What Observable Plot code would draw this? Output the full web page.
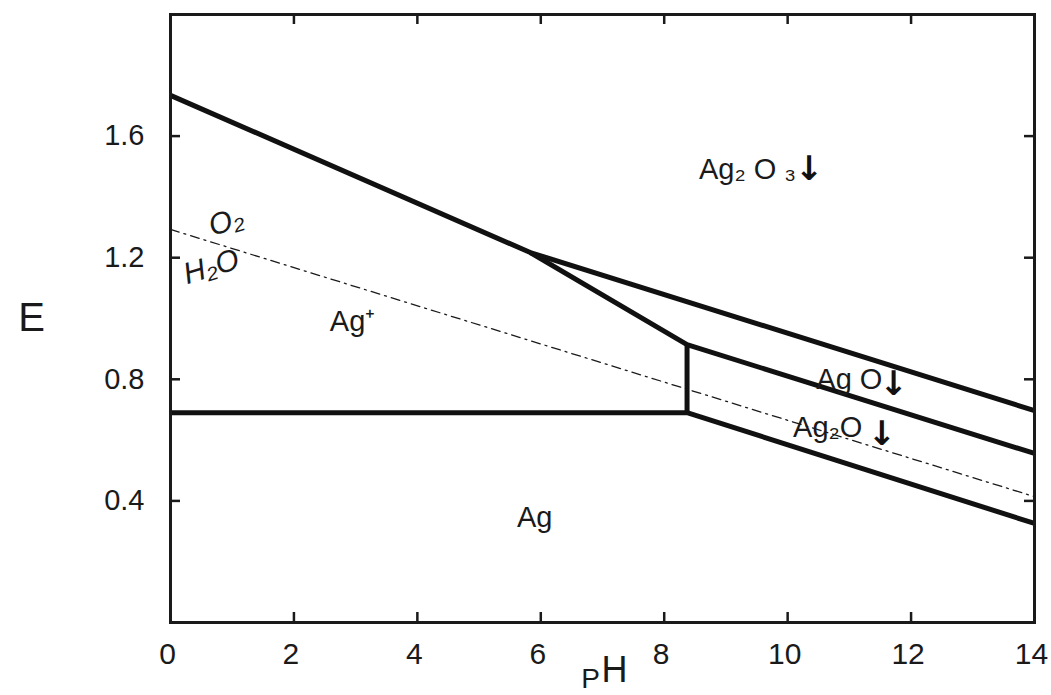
<!DOCTYPE html>
<html><head><meta charset="utf-8">
<script src="https://cdn.jsdelivr.net/npm/d3@7"></script>
<script src="https://cdn.jsdelivr.net/npm/@observablehq/plot@0.6"></script>
<style>body{margin:0;background:#fff}</style>
</head><body><div id="chart"></div>
<script>
// Tick values
const phTickLabels = [0, 2, 4, 6, 8, 10, 12, 14];
const phInnerTicks = [2, 4, 6, 8, 10, 12];
const eTickLabels = [0.4, 0.8, 1.2, 1.6];

// Boundary lines (pH, E)
const lineUpperPH = [0, 5.83, 14];
const lineUpperE  = [1.734, 1.217, 0.697];
const lineMiddlePH = [5.83, 8.37, 14];
const lineMiddleE  = [1.217, 0.914, 0.556];
const lineLowerPH = [0, 8.37, 14];
const lineLowerE  = [0.69, 0.69, 0.326];
const lineVertPH = [8.37, 8.37];
const lineVertE  = [0.914, 0.69];
const waterPH = [0, 14];
const waterE  = [1.293, 0.414];

// Region labels
const labelText = ["Ag\u2082 O \u2083", "Ag\u207A", "Ag", "Ag O", "Ag\u2082O"];
const labelPH   = [9.35, 2.95, 5.9, 11.0, 10.65];
const labelE    = [1.49, 0.99, 0.345, 0.80, 0.64];

// Precipitate arrows
const arrowPH = [10.35, 11.72, 11.53];
const arrowE  = [1.49, 0.785, 0.62];

// Water line labels
const waterText = ["O\u2082", "H\u2082O"];
const waterLabelPH = [0.9, 0.66];
const waterLabelE  = [1.318, 1.17];

const toRows = (id, xs, ys) => xs.map((x, i) => ({id, pH: x, E: ys[i]}));
const boundaries = [
  ...toRows("upper", lineUpperPH, lineUpperE),
  ...toRows("middle", lineMiddlePH, lineMiddleE),
  ...toRows("lower", lineLowerPH, lineLowerE),
  ...toRows("vert", lineVertPH, lineVertE)
];
const water = toRows("water", waterPH, waterE);
const labels = labelText.map((t, i) => ({t, pH: labelPH[i], E: labelE[i]}));
const arrows = arrowPH.map((x, i) => ({pH: x, E: arrowE[i]}));
const wLabels = waterText.map((t, i) => ({t, pH: waterLabelPH[i], E: waterLabelE[i]}));

const mT = 14, mB = 73, mL = 170, mR = 17, W = 1051, H = 695;
const innerH = H - mT - mB, innerW = W - mL - mR;
const tick = 10;

const chart = Plot.plot({
  width: W, height: H,
  marginTop: mT, marginBottom: mB, marginLeft: mL, marginRight: mR,
  x: {domain: [0, 14], axis: null},
  y: {domain: [0, 2], axis: null},
  style: {fontFamily: "'Liberation Sans', Arial, sans-serif", background: "#fff", color: "#1a1a1a"},
  marks: [
    Plot.text(phTickLabels, {x: d => d, text: d => String(d), frameAnchor: "bottom", dx: -3, dy: 32, lineAnchor: "middle", fontSize: 30, fill: "#1a1a1a"}),
    Plot.text(eTickLabels, {y: d => d, text: d => d.toFixed(1), frameAnchor: "left", dx: -26, textAnchor: "end", fontSize: 29, fill: "#1a1a1a"}),
    Plot.ruleX(phInnerTicks, {x: d => d, insetTop: innerH - tick, stroke: "#1a1a1a", strokeWidth: 2.5}),
    Plot.ruleX(phInnerTicks, {x: d => d, insetBottom: innerH - tick, stroke: "#1a1a1a", strokeWidth: 2.5}),
    Plot.ruleY(eTickLabels, {y: d => d, insetRight: innerW - tick, stroke: "#1a1a1a", strokeWidth: 2.5}),
    Plot.ruleY(eTickLabels, {y: d => d, insetLeft: innerW - tick, stroke: "#1a1a1a", strokeWidth: 2.5}),
    Plot.line(water, {x: "pH", y: "E", stroke: "#1a1a1a", strokeWidth: 1.3, strokeDasharray: "9,5,2,5"}),
    Plot.line(boundaries, {x: "pH", y: "E", z: "id", stroke: "#111", strokeWidth: 5, strokeLinejoin: "miter", strokeLinecap: "butt"}),
    Plot.frame({stroke: "#1a1a1a", strokeWidth: 3}),
    Plot.text(labels, {x: "pH", y: "E", text: "t", fontSize: 29, fill: "#1a1a1a"}),
    Plot.text(arrows, {x: "pH", y: "E", text: () => "\u2193", fontSize: 34, fontWeight: "bold", fontFamily: "'DejaVu Sans', sans-serif", fill: "#111"}),
    Plot.text(wLabels, {x: "pH", y: "E", text: "t", fontSize: 30, fontStyle: "italic", rotate: -17, fill: "#1a1a1a"}),
    Plot.text(["E"], {frameAnchor: "left", dx: -139, textAnchor: "middle", fontSize: 40, fill: "#1a1a1a"}),
    Plot.text(["P"], {frameAnchor: "bottom", dx: -12, dy: 57, textAnchor: "middle", lineAnchor: "middle", fontSize: 28, fill: "#1a1a1a"}),
    Plot.text(["H"], {frameAnchor: "bottom", dx: 12, dy: 48, textAnchor: "middle", lineAnchor: "middle", fontSize: 36, fill: "#1a1a1a"})
  ]
});
document.getElementById("chart").appendChild(chart);
</script>
</body></html>
